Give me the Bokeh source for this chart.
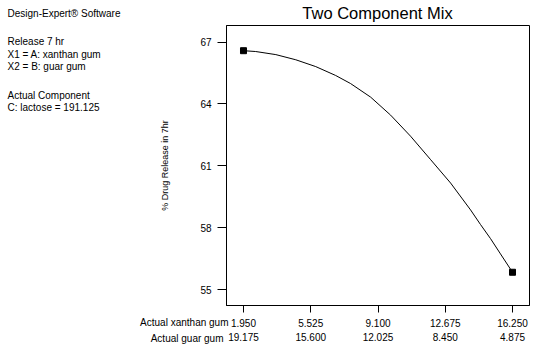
from bokeh.plotting import figure
from bokeh.models import Range1d, LinearAxis, FixedTicker, NumeralTickFormatter, Label
from bokeh.embed import file_html
from bokeh.resources import INLINE

# ---- data ----
xanthan_ticks = [1.950, 5.525, 9.100, 12.675, 16.250]
guar_ticks = [19.175, 15.600, 12.025, 8.450, 4.875]
y_ticks = [55, 58, 61, 64, 67]
total_ab = 21.125  # xanthan + guar (actual)

design_xanthan = [1.95, 16.25]
design_release = [66.58, 55.85]

curve_xanthan = [1.95, 2.60, 3.67, 4.73, 5.79, 6.85, 7.64, 8.71, 9.77, 10.83,
                 11.90, 12.96, 14.02, 14.55, 15.08, 15.61, 16.25]
curve_release = [66.58, 66.54, 66.39, 66.14, 65.81, 65.38, 64.99, 64.33, 63.46, 62.44,
                 61.30, 60.17, 58.87, 58.16, 57.48, 56.74, 55.85]

info_lines = ["Design-Expert\u00ae Software", "Release 7 hr", "X1 = A: xanthan gum",
              "X2 = B: guar gum", "Actual Component", "C: lactose = 191.125"]
info_centers = [13, 41, 54, 66, 94.5, 106.5]

FONT = "Liberation Sans"
x_lo, x_hi = 1.047, 17.153
y_lo, y_hi = 54.24, 67.8

p = figure(frame_width=303, frame_height=280, output_backend="svg", toolbar_location=None,
           x_range=Range1d(x_lo, x_hi), y_range=Range1d(y_lo, y_hi),
           min_border_left=226, min_border_right=15, min_border_top=25, min_border_bottom=30)
p.extra_x_ranges = {"guar": Range1d(total_ab - x_lo, total_ab - x_hi)}
p.grid.visible = False
p.outline_line_color = "black"
p.outline_line_alpha = 1.0

xa = p.xaxis[0]
xa.ticker = FixedTicker(ticks=xanthan_ticks)
xa.formatter = NumeralTickFormatter(format="0.000")
xa.major_tick_in = 0
xa.major_tick_out = 7
xa.minor_tick_line_color = None
xa.major_label_standoff = 6
xa.major_label_text_font = FONT
xa.major_label_text_font_size = "10px"
xa.major_label_text_color = "black"
xa.axis_line_color = "black"
xa.major_tick_line_color = "black"

ga = LinearAxis(x_range_name="guar", ticker=FixedTicker(ticks=guar_ticks),
                formatter=NumeralTickFormatter(format="0.000"))
ga.axis_line_color = None
ga.major_tick_line_color = None
ga.minor_tick_line_color = None
ga.major_tick_in = 0
ga.major_tick_out = 0
ga.major_label_standoff = 3
ga.major_label_text_font = FONT
ga.major_label_text_font_size = "10px"
ga.major_label_text_color = "black"
p.add_layout(ga, "below")

ya = p.yaxis[0]
ya.ticker = FixedTicker(ticks=y_ticks)
ya.major_tick_in = 0
ya.major_tick_out = 9
ya.minor_tick_line_color = None
ya.major_label_standoff = 6
ya.major_label_text_font = FONT
ya.major_label_text_font_size = "10px"
ya.major_label_text_color = "black"
ya.axis_line_color = "black"
ya.major_tick_line_color = "black"
ya.axis_label = "% Drug Release in 7hr"
ya.axis_label_text_font = FONT
ya.axis_label_text_font_size = "9px"
ya.axis_label_text_font_style = "normal"
ya.axis_label_text_color = "black"
ya.axis_label_standoff = 27

p.line(curve_xanthan, curve_release, line_color="black", line_width=1)
p.scatter(design_xanthan, design_release, marker="square", size=6,
          fill_color="black", line_color="black")


def canvas_label(text, x, y, size="10px", align="left"):
    return Label(x=x, y=y, x_units="canvas", y_units="canvas", text=text,
                 text_font=FONT, text_font_size=size, text_align=align,
                 text_baseline="middle", text_color="black")


# Labels live in the bottom side panel (unclipped); their canvas positions are absolute.
p.add_layout(canvas_label("Two Component Mix", 377, 12.5, "16.5px", "center"), "below")
for t, c in zip(info_lines, info_centers):
    p.add_layout(canvas_label(t, 7, c), "below")
p.add_layout(canvas_label("Actual xanthan gum", 228, 321.5, align="right"), "below")
p.add_layout(canvas_label("Actual guar gum", 223, 337.5, align="right"), "below")

open("out.html", "w").write(file_html(p, INLINE))
